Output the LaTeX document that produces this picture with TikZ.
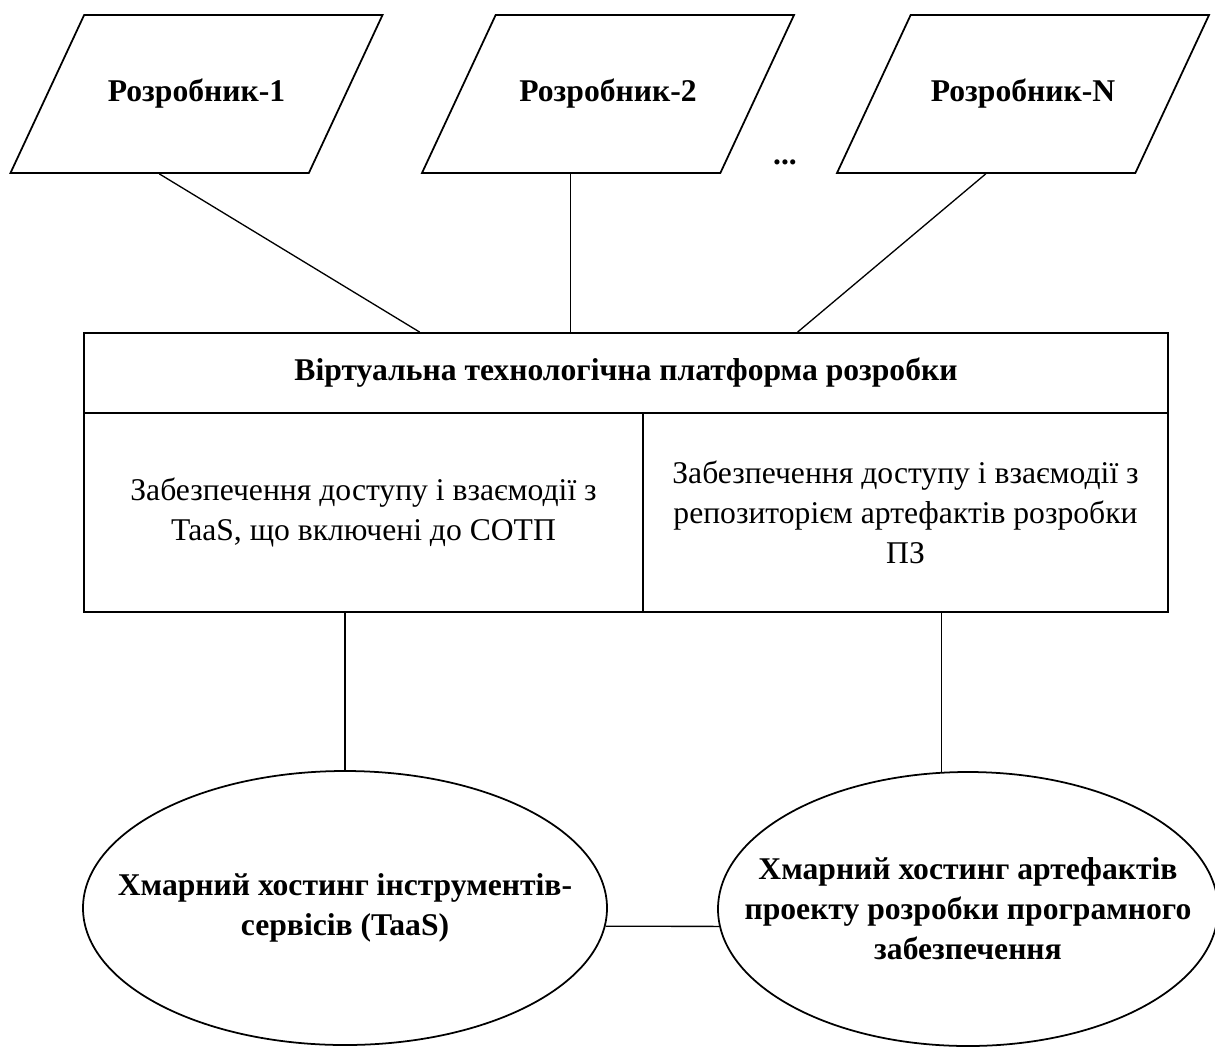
\documentclass[tikz,border=0pt]{standalone}
\usepackage{fontspec}
\setmainfont{Liberation Serif}
\usetikzlibrary{shapes.geometric,calc}

\begin{document}
\begin{tikzpicture}[
        every node/.style={font=\fontsize{14.4}{18.2}\selectfont},
        boldtxt/.style={font=\fontsize{14.4}{18.2}\selectfont\bfseries},
        dev/.style={draw,line width=0.8pt,trapezium,trapezium left angle=65,trapezium right angle=115,trapezium stretches body=true,text height=10pt,text depth=3pt,inner ysep=1.035cm,minimum width=5.952cm,boldtxt},
        cell/.style={draw,line width=0.8pt,align=center,inner sep=0pt},
        bubble/.style={draw,line width=0.8pt,ellipse,inner sep=0pt,minimum height=4.384cm},
        link/.style={line width=0.6pt}]
            \useasboundingbox (0,0) rectangle (19.44,16.736);

            % developers
            \node[dev] (dev1) at (3.144,15.232) {Розробник-1};
            \node[dev] (dev2) at (9.728,15.232) {Розробник-2};
            \node[dev] (dev3) at (16.368,15.232) {Розробник-N};
            \node[boldtxt] (dots) at (12.56,14.144) {...};

            % platform
            \node[cell,boldtxt,minimum width=17.344cm,minimum height=1.28cm] (head) at (10.016,10.768) {Віртуальна технологічна платформа розробки};
            \node[cell,minimum width=8.944cm,minimum height=3.184cm] (cell1) at (5.816,8.536) {Забезпечення доступу і взаємодії з\\TaaS, що включені до СОТП};
            \node[cell,minimum width=8.4cm,minimum height=3.184cm] (cell2) at (14.488,8.536) {Забезпечення доступу і взаємодії з\\репозиторієм артефактів розробки\\ПЗ};

            % hosting
            \node[bubble,minimum width=8.384cm,label={[boldtxt,align=center]center:Хмарний хостинг інструментів-\\сервісів (TaaS)}] (ell1) at (5.52,2.208) {};
            \node[bubble,minimum width=8cm,label={[boldtxt,align=center]center:Хмарний хостинг артефактів\\проекту розробки програмного\\забезпечення}] (ell2) at (15.488,2.192) {};

            \draw[link] (dev1.bottom side) -- ($(head.north west)!0.31!(head.north east)$);
            \draw[link] (dev2.bottom side) -- (dev2.bottom side |- head.north);
            \draw[link] (dev3.bottom side) -- ($(head.north west)!0.658!(head.north east)$);
            \draw[link] (ell1.north) -- (ell1.north |- cell1.south);
            \draw[link] (ell2.101) -- (ell2.101 |- cell2.south);
            \draw[link] (ell1.-4.4) -- (ell2.184.4);
        \end{tikzpicture}
\end{document}
